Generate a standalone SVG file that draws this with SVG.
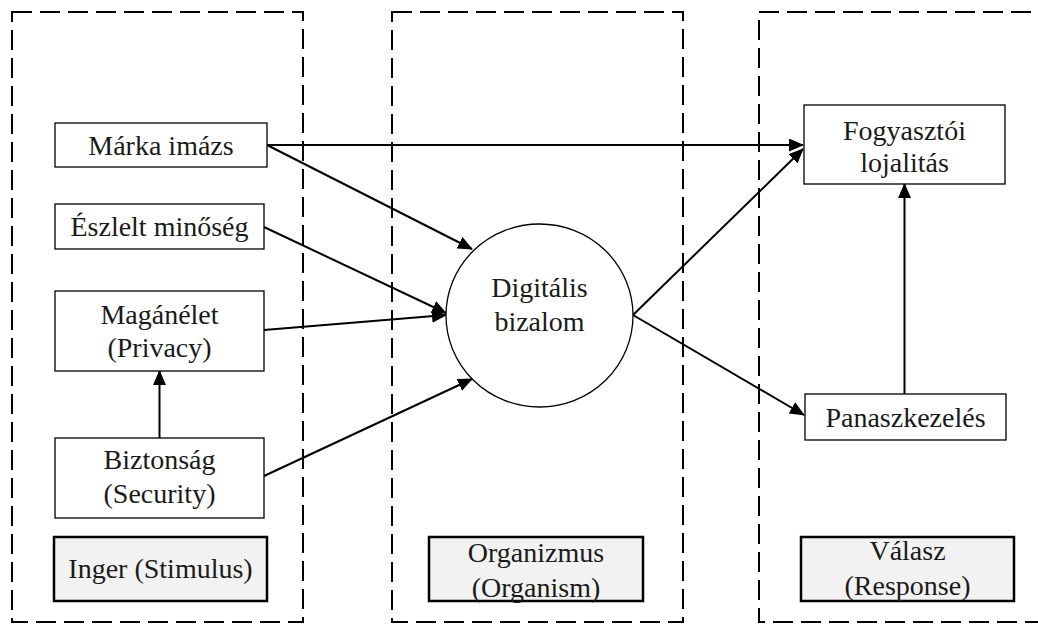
<svg xmlns="http://www.w3.org/2000/svg" width="1038" height="624" viewBox="0 0 1038 624">
  <style>
    .frame { fill: none; stroke: #000; stroke-width: 2; stroke-dasharray: 20 8; }
    .box { fill: #fff; stroke: #000; stroke-width: 1.3; }
    .stage { fill: #f2f2f2; stroke: #000; stroke-width: 2.5; }
    .lbl { font-family: "Liberation Serif", "Times New Roman", serif; font-size: 28px; fill: #1a1a1a; text-anchor: middle; }
    .conn line { stroke: #000; stroke-width: 2; marker-end: url(#arrow); }
  </style>
  <defs>
    <marker id="arrow" markerUnits="userSpaceOnUse" markerWidth="16" markerHeight="14" refX="14" refY="6.5" orient="auto">
      <path d="M0,0 L15,6.5 L0,13 z" fill="#000"/>
    </marker>
  </defs>
  <rect width="1038" height="624" fill="#fff"/>

  <!-- S-O-R stage frames -->
  <g id="frames">
    <rect class="frame" x="12" y="12" width="291" height="610"/>
    <rect class="frame" x="392" y="12" width="291" height="610"/>
    <rect class="frame" x="759" y="12" width="300" height="610"/>
  </g>

  <!-- connectors -->
  <g id="connectors" class="conn">
    <line x1="267" y1="145" x2="803" y2="145"/>
    <line x1="267" y1="145" x2="472" y2="249"/>
    <line x1="264" y1="227" x2="446" y2="313"/>
    <line x1="264" y1="330" x2="446" y2="315"/>
    <line x1="264" y1="476" x2="472" y2="379"/>
    <line x1="159.5" y1="438" x2="159.5" y2="371"/>
    <line x1="633" y1="315" x2="803" y2="149"/>
    <line x1="633" y1="315" x2="804" y2="415"/>
    <line x1="904.5" y1="394" x2="904.5" y2="184"/>
  </g>

  <!-- stimulus nodes -->
  <g id="marka-imazs">
    <rect class="box" x="55" y="123" width="212" height="44"/>
    <text class="lbl" x="161" y="155">Márka imázs</text>
  </g>
  <g id="eszlelt-minoseg">
    <rect class="box" x="55" y="204" width="209" height="45"/>
    <text class="lbl" x="159.5" y="236">Észlelt minőség</text>
  </g>
  <g id="maganelet">
    <rect class="box" x="55" y="291" width="209" height="80"/>
    <text class="lbl" x="159.5" y="324">Magánélet</text>
    <text class="lbl" x="159.5" y="357">(Privacy)</text>
  </g>
  <g id="biztonsag">
    <rect class="box" x="55" y="438" width="209" height="80"/>
    <text class="lbl" x="159.5" y="469">Biztonság</text>
    <text class="lbl" x="159.5" y="503">(Security)</text>
  </g>
  <g id="inger">
    <rect class="stage" x="54" y="537" width="213" height="64"/>
    <text class="lbl" x="160.5" y="578">Inger (Stimulus)</text>
  </g>

  <!-- organism -->
  <g id="digitalis-bizalom">
    <ellipse class="box" cx="539.5" cy="315.5" rx="93.5" ry="91.5"/>
    <text class="lbl" x="539.5" y="297">Digitális</text>
    <text class="lbl" x="539.5" y="331">bizalom</text>
  </g>
  <g id="organizmus">
    <rect class="stage" x="429" y="537" width="214" height="64"/>
    <text class="lbl" x="536" y="562">Organizmus</text>
    <text class="lbl" x="536" y="597">(Organism)</text>
  </g>

  <!-- response nodes -->
  <g id="fogyasztoi-lojalitas">
    <rect class="box" x="804" y="105" width="201" height="79"/>
    <text class="lbl" x="904.5" y="140">Fogyasztói</text>
    <text class="lbl" x="904.5" y="172">lojalitás</text>
  </g>
  <g id="panaszkezeles">
    <rect class="box" x="805" y="394" width="201" height="46"/>
    <text class="lbl" x="905.5" y="427">Panaszkezelés</text>
  </g>
  <g id="valasz">
    <rect class="stage" x="801" y="537" width="213" height="64"/>
    <text class="lbl" x="907.5" y="560">Válasz</text>
    <text class="lbl" x="907.5" y="595">(Response)</text>
  </g>
</svg>
